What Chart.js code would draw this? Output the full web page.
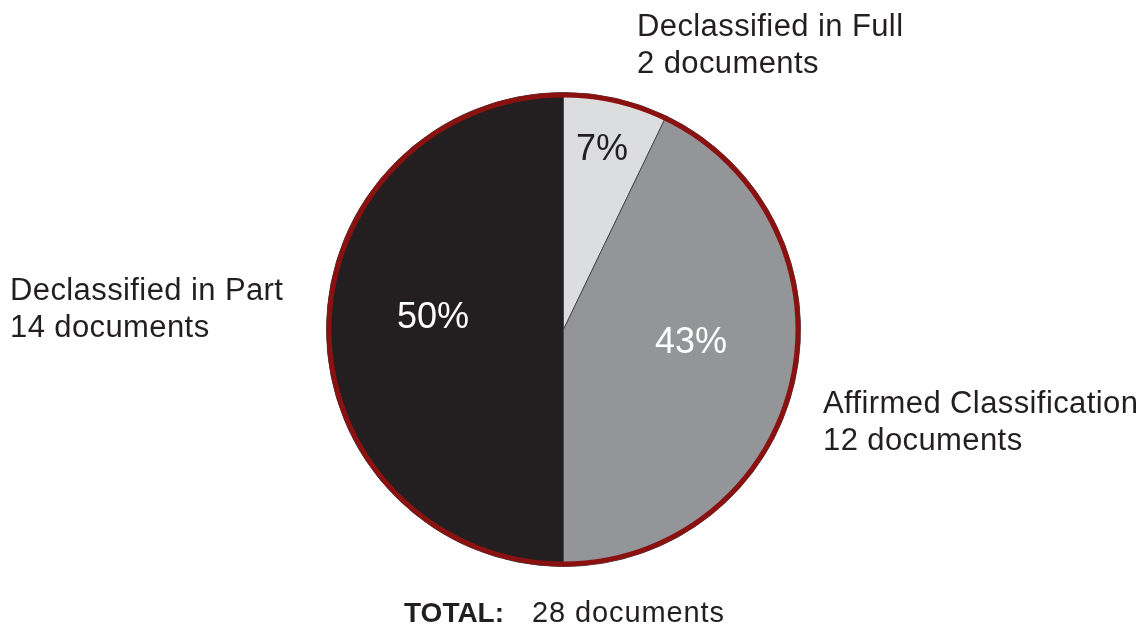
<!DOCTYPE html>
<html>
<head>
<meta charset="utf-8">
<script src="https://cdn.jsdelivr.net/npm/chart.js@4.4.1/dist/chart.umd.min.js"></script>
<style>
  html, body { margin: 0; padding: 0; background: #fff; }
  #wrap { position: relative; width: 1143px; height: 629px; }
</style>
</head>
<body>
<div id="wrap"><canvas id="pie"></canvas></div>
<script>
// --- data ---
const categories = ['Declassified in Full', 'Affirmed Classification', 'Declassified in Part'];
const documents = [2, 12, 14];
const sliceColors = ['#dcdddf', '#939598', '#231f20'];
const percentColors = ['#231f20', '#ffffff', '#ffffff'];
const totalDocs = 28;

const FONT = "'Liberation Sans', Arial, Helvetica, sans-serif";
const TEXT = '#231f20';

// where each text block sits (left edge, first baseline)
const labelSpots = [
  { x: 637, y: 36 },
  { x: 823, y: 413 },
  { x: 10, y: 300 }
];
const pctSpots = [
  { x: 576, y: 160 },
  { x: 655, y: 353 },
  { x: 397, y: 328 }
];

function pct(v) {
  return Math.round(v / totalDocs * 100) + '%';
}

const textPlugin = {
  id: 'pieText',
  afterDatasetsDraw(chart) {
    const ctx = chart.ctx;
    const arc = chart.getDatasetMeta(0).data[0];
    const { x, y, outerRadius } = arc.getProps(['x', 'y', 'outerRadius'], true);

    // dark red outer ring
    ctx.save();
    ctx.beginPath();
    ctx.arc(x, y, outerRadius - 2.5, 0, Math.PI * 2);
    ctx.lineWidth = 5;
    ctx.strokeStyle = '#8b1111';
    ctx.stroke();

    ctx.textAlign = 'left';
    ctx.textBaseline = 'alphabetic';

    // percentages inside slices
    ctx.font = '36px ' + FONT;
    ctx.letterSpacing = '0px';
    documents.forEach((v, i) => {
      ctx.fillStyle = percentColors[i];
      ctx.fillText(pct(v), pctSpots[i].x, pctSpots[i].y);
    });

    // outside labels
    ctx.font = '31px ' + FONT;
    ctx.letterSpacing = '0.4px';
    ctx.fillStyle = TEXT;
    categories.forEach((c, i) => {
      ctx.fillText(c, labelSpots[i].x, labelSpots[i].y);
      ctx.fillText(documents[i] + ' documents', labelSpots[i].x, labelSpots[i].y + 37);
    });

    // total
    ctx.font = 'bold 28px ' + FONT;
    ctx.letterSpacing = '0px';
    ctx.fillText('TOTAL:', 404, 622);
    ctx.font = '29px ' + FONT;
    ctx.letterSpacing = '0.9px';
    ctx.fillText(totalDocs + ' documents', 532, 622);
    ctx.restore();
  }
};

new Chart(document.getElementById('pie'), {
  type: 'pie',
  data: {
    labels: categories,
    datasets: [{
      data: documents,
      backgroundColor: sliceColors,
      borderColor: '#4a4a4c',
      borderWidth: 1
    }]
  },
  options: {
    responsive: true,
    maintainAspectRatio: false,
    animation: false,
    layout: { padding: { left: 100, right: 116, top: 92, bottom: 62 } },
    plugins: {
      legend: { display: false },
      tooltip: { enabled: false }
    }
  },
  plugins: [textPlugin]
});
</script>
</body>
</html>
